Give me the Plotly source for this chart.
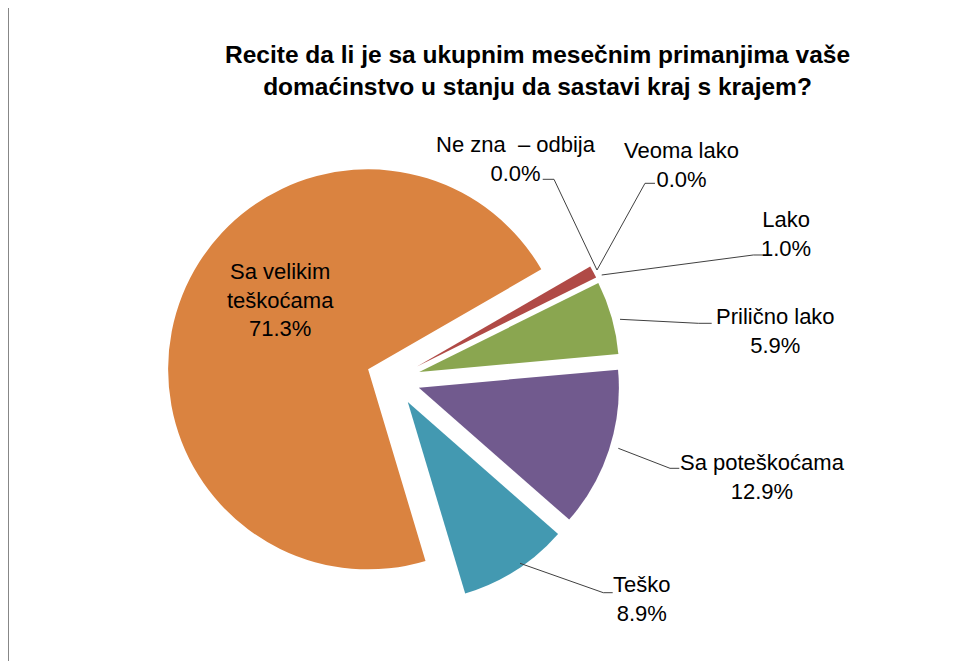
import plotly.graph_objects as go

# page offset: browser body margin (8px) is subtracted so that the
# figure's paper coordinates match the screenshot pixels
OFF = 8
W, H = 957 - OFF, 661 - OFF

# ---- data ----
categories = ["Ne zna  – odbija", "Veoma lako", "Lako", "Prilično lako",
              "Sa poteškoćama", "Teško", "Sa velikim teškoćama"]
values = [0.0, 0.0, 1.0, 5.9, 12.9, 8.9, 71.3]
value_labels = ["0.0%", "0.0%", "1.0%", "5.9%", "12.9%", "8.9%", "71.3%"]
colors = ["#4F81BD", "#C0504D", "#B04A46", "#8AA650", "#715A8E", "#4399B1", "#DA8340"]

title_lines = ["Recite da li je sa ukupnim mesečnim primanjima vaše",
               "domaćinstvo u stanju da sastavi kraj s krajem?"]

# label block centres (screen pixels) and leader-line paths (screen pixels)
label_pos = [(515.5, 159), (681, 164.5), (786, 234), (775, 330.5),
             (762.5, 476.5), (641, 599), (280, 300)]
label_text = ["Ne zna  – odbija", "Veoma lako", "Lako", "Prilično lako",
              "Sa poteškoćama", "Teško", "Sa velikim<br>teškoćama"]
leaders = [
    [(542.7, 179.3), (554, 179.3), (597, 270)],
    [(655, 183.3), (645, 183.3), (597, 270)],
    [(762.7, 255), (753.3, 255), (601.7, 275)],
    [(711.7, 323.3), (698.3, 323.3), (620, 319.3)],
    [(679.3, 468.3), (670, 468.3), (618.3, 448.3)],
    [(612.7, 592.7), (603.3, 592.7), (520, 563.3)],
]


def px(x):
    return (x - OFF) / W


def py(y):
    return 1 - (y - OFF) / H


# pie geometry (screen pixels)
cx, cy = 393.2, 379.3
half = 227
pull = 0.135

fig = go.Figure(go.Pie(
    labels=categories,
    values=values,
    sort=False,
    direction="clockwise",
    rotation=60,
    pull=[pull] * len(values),
    marker=dict(colors=colors, line=dict(width=0)),
    textinfo="none",
    hoverinfo="label+percent",
    showlegend=False,
    domain=dict(x=[px(cx - half), px(cx + half)],
                y=[py(cy + half), py(cy - half)]),
))

font_family = "Liberation Sans, Arial, sans-serif"

annotations = []
for (lx, ly), lt, vt in zip(label_pos, label_text, value_labels):
    annotations.append(dict(
        x=px(lx), y=py(ly), xref="paper", yref="paper",
        text=f"{lt}<br>{vt}", showarrow=False, align="center",
        xanchor="center", yanchor="middle",
        font=dict(family=font_family, size=22, color="#000000"),
    ))

annotations.append(dict(
    x=px(537), y=py(70), xref="paper", yref="paper",
    text="<b>" + "<br>".join(title_lines) + "</b>", showarrow=False,
    xanchor="center", yanchor="middle", align="center",
    font=dict(family=font_family, size=24.5, color="#000000"),
))

shapes = []
for path in leaders:
    d = "M " + " L ".join(f"{px(x):.5f},{py(y):.5f}" for x, y in path)
    shapes.append(dict(type="path", path=d, xref="paper", yref="paper",
                       line=dict(color="#404040", width=1)))

# outer frame (top and left edges visible)
shapes.append(dict(type="line", xref="paper", yref="paper",
                   x0=px(8), x1=1.01, y0=py(4), y1=py(4),
                   line=dict(color="#878787", width=2)))
shapes.append(dict(type="line", xref="paper", yref="paper",
                   x0=px(8), x1=px(8), y0=py(4), y1=-0.01,
                   line=dict(color="#878787", width=2)))

fig.update_layout(
    width=W, height=H,
    margin=dict(l=0, r=0, t=0, b=0),
    paper_bgcolor="white", plot_bgcolor="white",
    annotations=annotations, shapes=shapes,
)

fig.write_html("out.html")
